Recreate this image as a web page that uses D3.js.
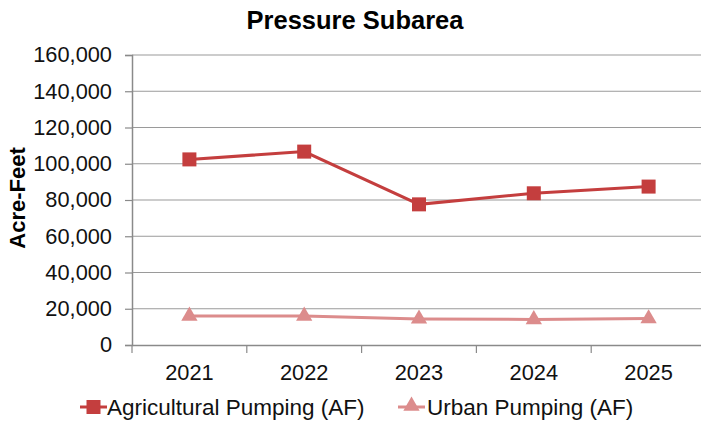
<!DOCTYPE html>
<html><head><meta charset="utf-8">
<script src="https://cdn.jsdelivr.net/npm/d3@7"></script>
<style>body{margin:0;background:#fff}svg{display:block;font-family:"Liberation Sans",Arial,sans-serif}</style>
</head><body><svg id="c" width="701" height="424"></svg>
<script>
const years = ["2021","2022","2023","2024","2025"];
const agricultural = [102400, 106700, 77600, 83700, 87400];
const urban = [16000, 16000, 14400, 14100, 14600];
const yTicks = [0,20000,40000,60000,80000,100000,120000,140000,160000];
const seriesNames = ["Agricultural Pumping (AF)", "Urban Pumping (AF)"];

const svg = d3.select("#c");
const L = 132, R = 706, T = 55, B = 345;
const x = d3.scaleBand().domain(years).range([L, R]);
const y = d3.scaleLinear().domain([0,160000]).range([B, T]);
const agColor = "#C43E3E", urColor = "#DC8C8C";
const FF = "Liberation Sans, Arial, sans-serif";

// gridlines
svg.append("g").selectAll("line").data(yTicks.slice(1)).join("line")
  .attr("x1", L).attr("x2", R).attr("y1", d=>y(d)).attr("y2", d=>y(d))
  .attr("stroke", "#9a9a9a").attr("stroke-width", 1.2);

// y axis
const ya = svg.append("g").attr("transform", `translate(${L},0)`)
  .call(d3.axisLeft(y).tickValues(yTicks).tickFormat(d3.format(",")).tickSize(7).tickPadding(13));
ya.select(".domain").attr("stroke", "#8a8a8a").attr("stroke-width", 1.5);
ya.selectAll(".tick line").attr("stroke", "#8a8a8a").attr("stroke-width", 1.2);
ya.selectAll("text").attr("font-size", 21.8).attr("fill", "#111").attr("font-family", FF);

// x axis
const xa = svg.append("g").attr("transform", `translate(0,${B})`)
  .call(d3.axisBottom(x).tickSize(0).tickPadding(20));
xa.select(".domain").attr("stroke", "#8a8a8a").attr("stroke-width", 1.5);
xa.selectAll("text").attr("font-size", 21.8).attr("fill", "#111").attr("font-family", FF);
const bounds = years.map(d => x(d)).concat([R]);
svg.append("g").selectAll("line").data(bounds).join("line")
  .attr("x1", d=>d).attr("x2", d=>d).attr("y1", B).attr("y2", B+8)
  .attr("stroke", "#8a8a8a").attr("stroke-width", 1.2);

const cx = d => x(d) + x.bandwidth()/2;
const line = d3.line().x((d,i)=>cx(years[i])).y(d=>y(d));

// urban
svg.append("path").datum(urban).attr("d", line).attr("fill","none").attr("stroke", urColor).attr("stroke-width", 3);
const tri = d3.symbol().type(d3.symbolTriangle).size(115);
svg.append("g").selectAll("path").data(urban).join("path")
  .attr("d", tri).attr("transform", (d,i)=>`translate(${cx(years[i])},${y(d)})`).attr("fill", urColor);

// agricultural
svg.append("path").datum(agricultural).attr("d", line).attr("fill","none").attr("stroke", agColor).attr("stroke-width", 3);
svg.append("g").selectAll("rect").data(agricultural).join("rect")
  .attr("x", (d,i)=>cx(years[i])-7).attr("y", d=>y(d)-7).attr("width",14).attr("height",14).attr("fill", agColor);

// title
svg.append("text").attr("x", 355).attr("y", 29).attr("text-anchor","middle")
  .attr("font-size", 25.5).attr("font-weight","bold").attr("fill","#000").text("Pressure Subarea");
// y label
svg.append("text").attr("transform","translate(25,198) rotate(-90)").attr("text-anchor","middle")
  .attr("font-size", 22).attr("font-weight","bold").attr("fill","#000").text("Acre-Feet");

// legend
const lg = svg.append("g");
lg.append("line").attr("x1",80).attr("x2",107).attr("y1",407).attr("y2",407).attr("stroke",agColor).attr("stroke-width",3);
lg.append("rect").attr("x",86.5).attr("y",400).attr("width",14).attr("height",14).attr("fill",agColor);
lg.append("text").attr("x",107).attr("y",415).attr("font-size",22.5).attr("fill","#111").text(seriesNames[0]);
lg.append("line").attr("x1",398).attr("x2",425).attr("y1",407).attr("y2",407).attr("stroke",urColor).attr("stroke-width",3);
lg.append("path").attr("d", tri).attr("transform","translate(411.5,406)").attr("fill",urColor);
lg.append("text").attr("x",427).attr("y",415).attr("font-size",22.5).attr("fill","#111").text(seriesNames[1]);
</script></body></html>
